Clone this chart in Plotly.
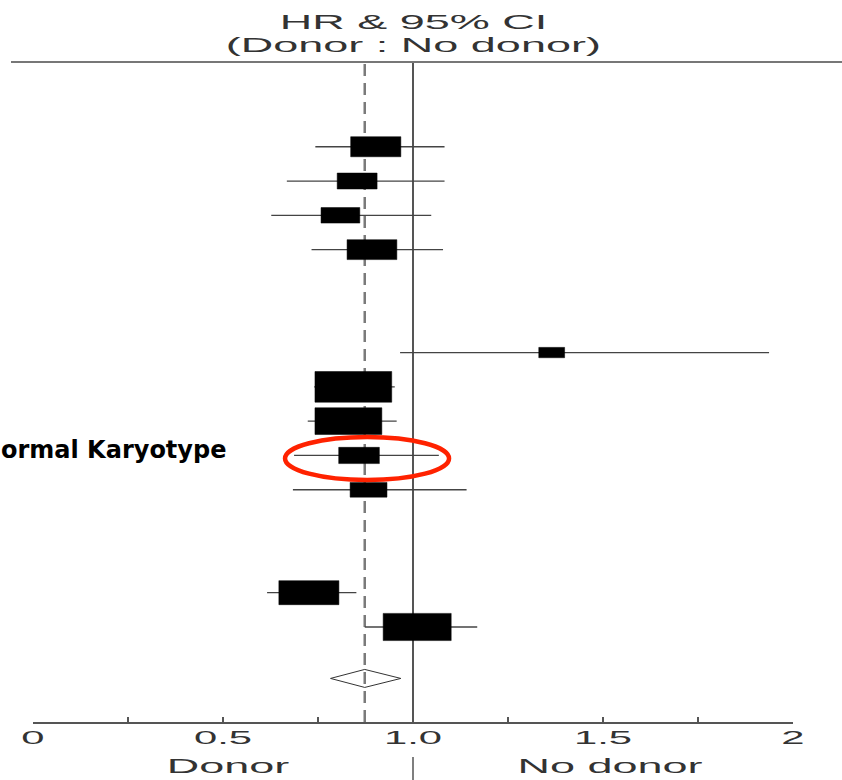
import plotly.graph_objects as go

# ---- data ----
rows = [0, 1, 2, 3, 6, 7, 8, 9, 10, 13, 14]
hr = [0.902, 0.853, 0.809, 0.892, 1.365, 0.843, 0.830, 0.858, 0.883, 0.726, 1.011]
ci_lo = [0.743, 0.668, 0.627, 0.733, 0.966, 0.740, 0.723, 0.687, 0.684, 0.616, 0.873]
ci_hi = [1.083, 1.083, 1.048, 1.079, 1.937, 0.952, 0.957, 1.068, 1.141, 0.851, 1.169]
box_w = [0.132, 0.105, 0.102, 0.131, 0.068, 0.202, 0.176, 0.107, 0.097, 0.158, 0.179]
overall_row = 15.5
overall_hr = 0.873
overall_lo = 0.783
overall_hi = 0.968
highlight_row = 9
highlight_label = "ormal Karyotype"
header_lines = ["HR & 95% CI", "(Donor : No donor)"]
side_labels = ["Donor", "No donor"]
side_label_x = [0.515, 1.52]

tick_vals = [0, 0.5, 1.0, 1.5, 2]
tick_text = ["0", "0.5", "1.0", "1.5", "2"]
minor_vals = [0.25, 0.75, 1.25, 1.75]

W, H = 842, 780
ML, MR, MT, MB = 33, 49, 62, 58
XR = [0, 2]
YR = [16.77, -2.47]
PW, PH = W - ML - MR, H - MT - MB
px_per_x = PW / (XR[1] - XR[0])
px_per_row = PH / (YR[0] - YR[1])
ASPECT = 2.5  # box width / height in pixels


def py(ypx):
    """pixel row from top of page -> paper coordinate"""
    return 1 + (MT - ypx) / PH


fig = go.Figure()
shapes = []
# reference lines
shapes.append(dict(type="line", xref="x", yref="paper", x0=1.0, x1=1.0, y0=0, y1=1,
                   line=dict(color="#555555", width=2)))
shapes.append(dict(type="line", xref="x", yref="paper", x0=overall_hr, x1=overall_hr, y0=0, y1=1,
                   line=dict(color="#7a7a7a", width=2.5, dash="12px,7px")))
shapes.append(dict(type="line", xref="x", yref="paper", x0=1.0, x1=1.0,
                   y0=py(757), y1=py(H), line=dict(color="#555555", width=1.5)))
# top horizontal rule
shapes.append(dict(type="line", xref="paper", yref="paper",
                   x0=(11 - ML) / PW, x1=(W - ML) / PW, y0=1, y1=1,
                   line=dict(color="#777777", width=2)))

# CI whiskers
for r, lo, hi in zip(rows, ci_lo, ci_hi):
    shapes.append(dict(type="line", xref="x", yref="y", x0=lo, x1=hi, y0=r, y1=r,
                       line=dict(color="#444444", width=1.3)))
# boxes
for r, h, w in zip(rows, hr, box_w):
    hh = w * px_per_x / ASPECT / px_per_row / 2
    shapes.append(dict(type="rect", xref="x", yref="y", x0=h - w / 2, x1=h + w / 2,
                       y0=r - hh, y1=r + hh, fillcolor="black", line=dict(color="black", width=0.5)))

# overall diamond
dh = 9 / px_per_row
fig.add_trace(go.Scatter(
    x=[overall_lo, overall_hr, overall_hi, overall_hr, overall_lo],
    y=[overall_row, overall_row - dh, overall_row, overall_row + dh, overall_row],
    mode="lines", line=dict(color="#333333", width=1), fill="toself", fillcolor="white",
    hoverinfo="skip", showlegend=False))

# red highlight ellipse
hi_idx = rows.index(highlight_row)
ecx = hr[hi_idx] + 8 / px_per_x
shapes.append(dict(type="circle", xref="x", yref="y",
                   x0=ecx - 82 / px_per_x, x1=ecx + 82 / px_per_x,
                   y0=highlight_row + (3 - 21.5) / px_per_row,
                   y1=highlight_row + (3 + 21.5) / px_per_row,
                   line=dict(color="#ff2200", width=4.5)))

FONT = "Liberation Sans, Arial, Helvetica"
annotations = [
    dict(text=header_lines[0], xref="x", yref="paper", x=1.0, y=py(22), yanchor="middle",
         showarrow=False, font=dict(family=FONT, size=20, color="#333333")),
    dict(text=header_lines[1], xref="x", yref="paper", x=1.0, y=py(45), yanchor="middle",
         showarrow=False, font=dict(family=FONT, size=20, color="#333333")),
]
for lab, lx in zip(side_labels, side_label_x):
    annotations.append(dict(text=lab, xref="x", yref="paper", x=lx, y=py(766), yanchor="middle",
                            showarrow=False, font=dict(family=FONT, size=20, color="#333333")))
annotations.append(dict(text="<b>" + highlight_label + "</b>", xref="paper", yref="y",
                        x=(228 - ML) / PW, y=highlight_row - 5 / px_per_row,
                        xanchor="right", yanchor="middle", showarrow=False,
                        font=dict(family="DejaVu Sans", size=24, color="black")))

fig.update_layout(
    width=W, height=H, margin=dict(l=ML, r=MR, t=MT, b=MB),
    plot_bgcolor="white", paper_bgcolor="white",
    shapes=shapes, annotations=annotations, showlegend=False,
    xaxis=dict(range=XR, showgrid=False, zeroline=False, showline=True, linecolor="#555555",
               linewidth=1.5, ticks="inside", ticklen=5, tickwidth=1.5, tickcolor="#555555",
               tickvals=tick_vals + minor_vals, ticktext=tick_text + [""] * len(minor_vals),
               tickfont=dict(family=FONT, size=19, color="#333333")),
    yaxis=dict(range=YR, visible=False),
)

# the reference image is horizontally stretched: widen the Helvetica texts the same way
post_js = """
var gd = document.getElementById('{plot_id}');
function sx(el, s, dy){
  var b = el.getBBox(); var cx = b.x + b.width/2;
  var t = el.getAttribute('transform') || '';
  el.setAttribute('transform', t + ' translate(' + cx + ',' + dy + ') scale(' + s + ',1) translate(' + (-cx) + ',0)');
}
gd.querySelectorAll('.annotation-text').forEach(function(el){
  if (el.textContent.indexOf('Karyotype') < 0) { sx(el, 2.25, 0); }
});
gd.querySelectorAll('.xtick text').forEach(function(el){ sx(el, 2.2, -3); });
"""

fig.write_html("out.html", post_script=post_js)
